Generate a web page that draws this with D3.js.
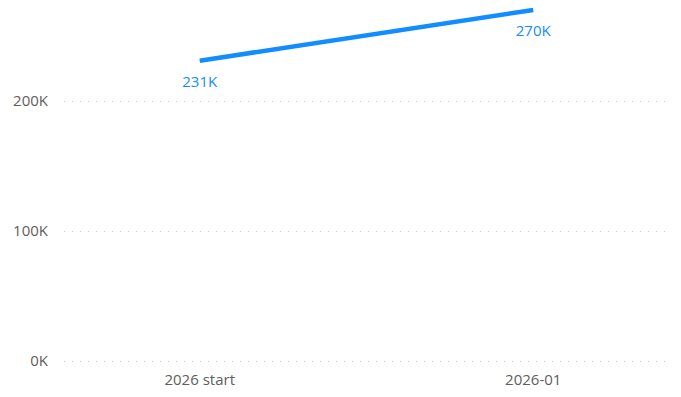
<!DOCTYPE html>
<html>
<head>
<meta charset="utf-8">
<script src="https://cdn.jsdelivr.net/npm/d3@7"></script>
<style>
	body { margin: 0; background: #fff; }
	text { font-family: "Segoe UI", "Open Sans", sans-serif; }
	.tick text { fill: #605E5C; font-size: 15px; }
	.data-label { fill: #118DFF; font-size: 15px; }
</style>
</head>
<body>
<div id="chart"></div>
<script>
	var categories = ['2026 start', '2026-01'];
	var values = [231000, 270000];
	var yTicks = [0, 100000, 200000];

	var width = 681,
		height = 397,
		plotLeft = 62,
		plotRight = 668,
		plotTop = 0,
		plotBottom = 361;

	var svg = d3.select('#chart')
		.append('svg')
		.attr('width', width)
		.attr('height', height);

	var x = d3.scalePoint()
		.domain(categories)
		.range([plotLeft + 1, plotRight + 2])
		.padding(0.41);

	var y = d3.scaleLinear()
		.domain([0, 277692])
		.range([plotBottom, plotTop]);

	var fmt = function(d) { return Math.round(d / 1000) + 'K'; };

	// gridlines
	svg.append('g')
		.selectAll('line')
		.data(yTicks)
		.enter()
		.append('line')
		.attr('x1', plotLeft + 2)
		.attr('x2', plotRight)
		.attr('y1', function(d) { return Math.round(y(d)) + 0.5; })
		.attr('y2', function(d) { return Math.round(y(d)) + 0.5; })
		.attr('stroke', '#C8C6C4')
		.attr('stroke-width', 1)
		.attr('stroke-dasharray', '1 7');

	// y axis labels
	svg.append('g')
		.attr('class', 'tick')
		.selectAll('text')
		.data(yTicks)
		.enter()
		.append('text')
		.attr('x', 48)
		.attr('y', function(d) { return y(d); })
		.attr('dy', '0.35em')
		.attr('text-anchor', 'end')
		.text(fmt);

	// x axis labels
	svg.append('g')
		.attr('class', 'tick')
		.selectAll('text')
		.data(categories)
		.enter()
		.append('text')
		.attr('x', function(d) { return x(d); })
		.attr('y', 380)
		.attr('dy', '0.35em')
		.attr('text-anchor', 'middle')
		.text(function(d) { return d; });

	var line = d3.line()
		.x(function(d, i) { return x(categories[i]); })
		.y(function(d) { return y(d); });

	svg.append('path')
		.datum(values)
		.attr('d', line)
		.attr('fill', 'none')
		.attr('stroke', '#118DFF')
		.attr('stroke-width', 4.5);

	svg.append('g')
		.selectAll('text')
		.data(values)
		.enter()
		.append('text')
		.attr('class', 'data-label')
		.attr('x', function(d, i) { return x(categories[i]); })
		.attr('y', function(d) { return y(d) + 21; })
		.attr('dy', '0.35em')
		.attr('text-anchor', 'middle')
		.text(fmt);
</script>
</body>
</html>
